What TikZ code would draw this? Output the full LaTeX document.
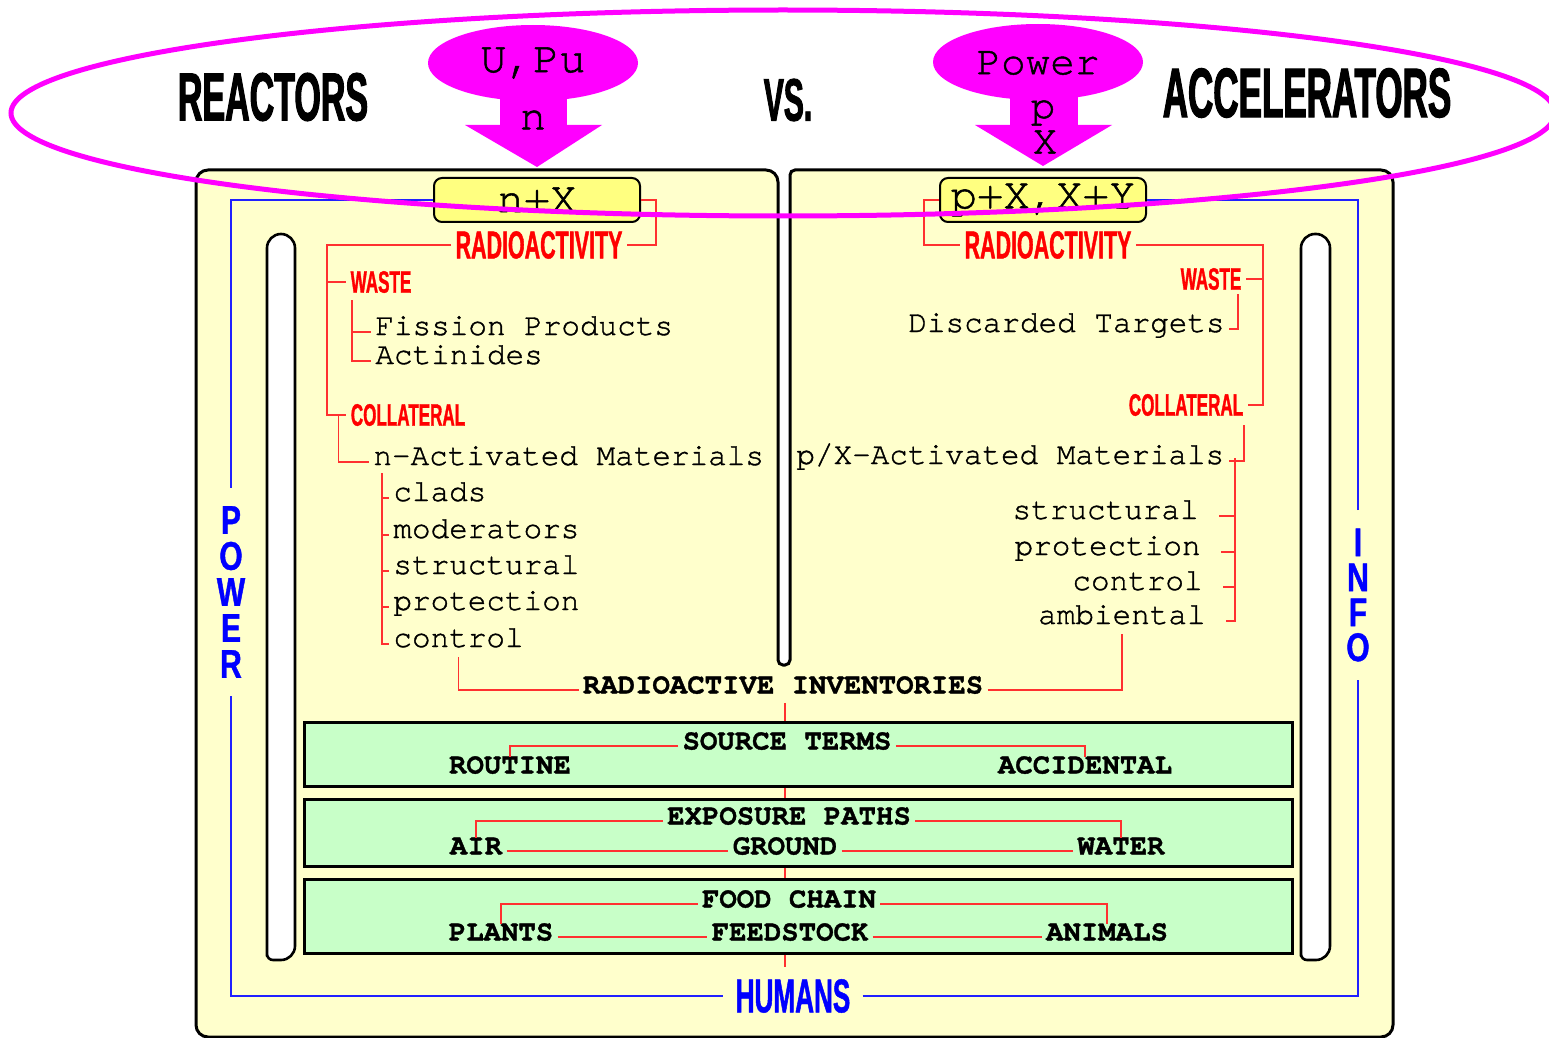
\documentclass[tikz,border=0pt]{standalone}
\usepackage{fontspec}
\setmonofont[FakeBold=1.2]{TeX Gyre Cursor}
\newfontfamily\ttlfont[FakeStretch=0.5,FakeBold=1.5]{Liberation Sans}
\newfontfamily\hdfont[FakeStretch=0.55,FakeBold=1]{Liberation Sans}
\newfontfamily\vtfont[FakeStretch=0.75,FakeBold=1]{Liberation Sans}
\usetikzlibrary{positioning, calc}
\definecolor{panelyel}{HTML}{FFFFCC}
\definecolor{boxyel}{HTML}{FFFF80}
\definecolor{boxgreen}{HTML}{C8FFC8}
\definecolor{hred}{HTML}{FF0000}
\definecolor{lred}{HTML}{FF3030}
\definecolor{hblue}{HTML}{0000FF}
\definecolor{lblue}{HTML}{2020FF}
\definecolor{mag}{HTML}{FF00FF}

\begin{document}
\begin{tikzpicture}[x=0.5pt, y=-0.5pt,
    every node/.style={inner sep=2pt},
    panel/.style={draw, line width=1.5pt, fill=panelyel},
    bar/.style={draw, line width=1.3pt, fill=white},
    ybox/.style={draw, line width=1pt, fill=boxyel, rounded corners=4pt,
                 minimum width=103pt, minimum height=22pt, inner sep=0pt,
                 font=\ttfamily\fontsize{22}{24}\selectfont},
    gbox/.style={draw, line width=1.5pt, fill=boxgreen, minimum width=494pt, inner sep=0pt},
    title/.style={font=\ttlfont\bfseries\fontsize{34}{36}\selectfont},
    head/.style={text=hred, font=\hdfont\bfseries\fontsize{19.5}{22}\selectfont},
    sub/.style={text=hred, font=\hdfont\bfseries\fontsize{15.5}{18}\selectfont},
    item/.style={font=\ttfamily\fontsize{15.5}{18}\selectfont, text height=0.6em,
                 text depth=0.3em, yshift=-3pt},
    low/.style={font=\ttfamily\bfseries\fontsize{14.5}{17}\selectfont, text height=0.6em,
                text depth=0.25em, yshift=-2.5pt},
    blob/.style={font=\ttfamily\fontsize{22}{24}\selectfont, inner sep=0pt},
    vlab/.style={text=hblue, align=center, inner sep=9pt,
                 font=\vtfont\bfseries\fontsize{20}{18}\selectfont},
    rl/.style={draw=lred, line width=0.75pt},
    bl/.style={draw=lblue, line width=0.75pt},
]
\useasboundingbox (0,0) rectangle (1549,1038);

\draw[panel] (196,1037) [rounded corners=6pt] -- (196,170) -- (778,170)
      [rounded corners=2.5pt] -- (778,665) -- (790,665) -- (790,170)
      [rounded corners=6pt] -- (1393,170) -- (1393,1037) -- cycle;
\draw[bar] (267,960) [rounded corners=7pt] -- (267,234) -- (295,234) -- (295,960)
      [rounded corners=3pt] -- (267,960) -- cycle;
\draw[bar] (1301,960) [rounded corners=7pt] -- (1301,234) -- (1330,234) -- (1330,960)
      [rounded corners=3pt] -- (1301,960) -- cycle;

\node[ybox] (nx) at (537,200) {n+X};
\node[ybox] (px) at (1043,200) {p+X,X+Y};

\node[vlab] (power) at (231,592) {P\\O\\W\\E\\R};
\node[vlab, font=\vtfont\bfseries\fontsize{20}{17.5}\selectfont] (info) at (1358,595) {I\\N\\F\\O};
\node[text=hblue, inner sep=6pt, font=\hdfont\bfseries\fontsize{23.75}{26}\selectfont] (humans) at (793,996) {HUMANS};

\node[head] (radL) at (539,245) {RADIOACTIVITY};
\node[sub] (wasteL) at (381,282) {WASTE};
\node[sub] (collL) at (408,415) {COLLATERAL};
\node[item, anchor=west] (fis) at (371,326) {Fission Products};
\node[item, anchor=west] (act) at (371,355) {Actinides};
\node[item, anchor=west] (nact) at (369,456) {n-Activated Materials};
\node[item, anchor=west] (clads) at (389,492) {clads};
\node[item, anchor=west] (mods) at (389,529) {moderators};
\node[item, anchor=west] (strL) at (389,565) {structural};
\node[item, anchor=west] (proL) at (389,601) {protection};
\node[item, anchor=west] (ctlL) at (389,638) {control};

\node[head] (radR) at (1048,245) {RADIOACTIVITY};
\node[sub] (wasteR) at (1211,279) {WASTE};
\node[sub] (collR) at (1186,405) {COLLATERAL};
\node[item, anchor=east] (disc) at (1229,323) {Discarded Targets};
\node[item, anchor=west] (pact) at (792,455) {p/X-Activated Materials};
\node[item, anchor=east] (strR) at (1203,510) {structural};
\node[item, anchor=east] (proR) at (1205,546) {protection};
\node[item, anchor=east] (ctlR) at (1207,581) {control};
\node[item, anchor=east] (ambR) at (1210,615) {ambiental};

\node[low] (inv) at (783,685) {RADIOACTIVE INVENTORIES};
\node[gbox, minimum height=32pt] (src) at (798,754) {};
\node[gbox, minimum height=33.5pt] (exp) at (798,832.5) {};
\node[gbox, minimum height=37pt] (fch) at (798,916) {};
\node[low] (srcT) at (787,741) {SOURCE TERMS};
\node[low] (rout) at (510,765) {ROUTINE};
\node[low] (acci) at (1085,765) {ACCIDENTAL};
\node[low] (expo) at (789,816) {EXPOSURE PATHS};
\node[low] (air) at (476,846) {AIR};
\node[low] (grnd) at (785,846) {GROUND};
\node[low] (watr) at (1121,846) {WATER};
\node[low] (food) at (789,899) {FOOD CHAIN};
\node[low] (plnt) at (501,932) {PLANTS};
\node[low] (feed) at (790,932) {FEEDSTOCK};
\node[low] (anim) at (1107,932) {ANIMALS};

\draw[bl] (power.north) |- (nx.west);
\draw[bl] (power.south) |- (humans.west);
\draw[bl] (humans.east) -| (info.south);
\draw[bl] (info.north) |- (px.east);

\draw[rl] (nx.east) -- ++(15,0) |- (radL.east);
\coordinate (lt) at (327,245);
\draw[rl] (radL.west) -- (lt) |- (collL.west);
\draw[rl] (lt |- wasteL.west) -- (wasteL.west);
\coordinate (lw) at (352,300);
\draw[rl] (lw) |- (act.west);
\draw[rl] (lw |- fis.west) -- (fis.west);
\draw[rl] ([xshift=-4pt]collL.west) |- (nact.west);
\coordinate (li) at (382,473);
\draw[rl] (li) |- (ctlL.west);
\foreach \n in {clads,mods,strL,proL}
  \draw[rl] (li |- \n.west) -- (\n.west);
\draw[rl] (inv.west) -| (ctlL.south);

\draw[rl] (px.west) -- ++(-15,0) |- (radR.west);
\coordinate (rt) at (1263,245);
\draw[rl] (radR.east) -- (rt) |- (collR.east);
\draw[rl] (rt |- wasteR.east) -- (wasteR.east);
\coordinate (rw) at (1238,294);
\draw[rl] (rw) |- (disc.east);
\coordinate (rc) at (1244,425);
\draw[rl] (rc) |- (pact.east);
\coordinate (ri) at (1235,458);
\draw[rl] (ri) |- ([xshift=8pt]ambR.east);
\foreach \n in {strR,proR,ctlR}
  \draw[rl] (ri |- \n.east) -- ([xshift=8pt]\n.east);
\draw[rl] (inv.east) -| (ambR.south);

\draw[rl] (srcT.west) -| (rout.north);
\draw[rl] (srcT.east) -| (acci.north);
\draw[rl] (expo.west) -| (air.north);
\draw[rl] (expo.east) -| (watr.north);
\draw[rl] (air.east) -- (grnd.west);
\draw[rl] (grnd.east) -- (watr.west);
\draw[rl] (food.west) -| (plnt.north);
\draw[rl] (food.east) -| (anim.north);
\draw[rl] (plnt.east) -- (feed.west);
\draw[rl] (feed.east) -- (anim.west);
\coordinate (sp) at (785,700);
\draw[rl] (inv.south -| sp) -- (src.north -| sp);
\draw[rl] (src.south -| sp) -- (exp.north -| sp);
\draw[rl] (exp.south -| sp) -- (fch.north -| sp);
\draw[rl] (fch.south -| sp) -- (humans.north -| sp);

\fill[mag] (533,63) ellipse [x radius=105, y radius=38];
\fill[mag] (500,90) rectangle (567,127);
\fill[mag] (465,125) -- (602,125) -- (537,167) -- cycle;
\fill[mag] (1038,62) ellipse [x radius=105, y radius=38];
\fill[mag] (1010,90) rectangle (1078,127);
\fill[mag] (975,125) -- (1112,125) -- (1043,166) -- cycle;
\node[blob] (upu) at (533,63) {U,Pu};
\node[blob] (nn) at (533,120) {n};
\node[blob, font=\ttfamily\fontsize{20.5}{22}\selectfont] (pow) at (1038,63) {Power};
\node[blob, font=\ttfamily\fontsize{20.5}{22}\selectfont] (pp) at (1043,113) {p};
\node[blob, font=\ttfamily\fontsize{20.5}{22}\selectfont] (xx) at (1045,142) {X};

\node[title] (reac) at (273,97) {REACTORS};
\node[title, font=\ttlfont\bfseries\fontsize{30}{32}\selectfont] (vs) at (788,100) {VS.};
\node[title, font=\ttlfont\bfseries\fontsize{35}{36}\selectfont] (acc) at (1307,93) {ACCELERATORS};

\draw[mag, line width=2.5pt] (783,113) ellipse [x radius=772, y radius=103];
\end{tikzpicture}
\end{document}
